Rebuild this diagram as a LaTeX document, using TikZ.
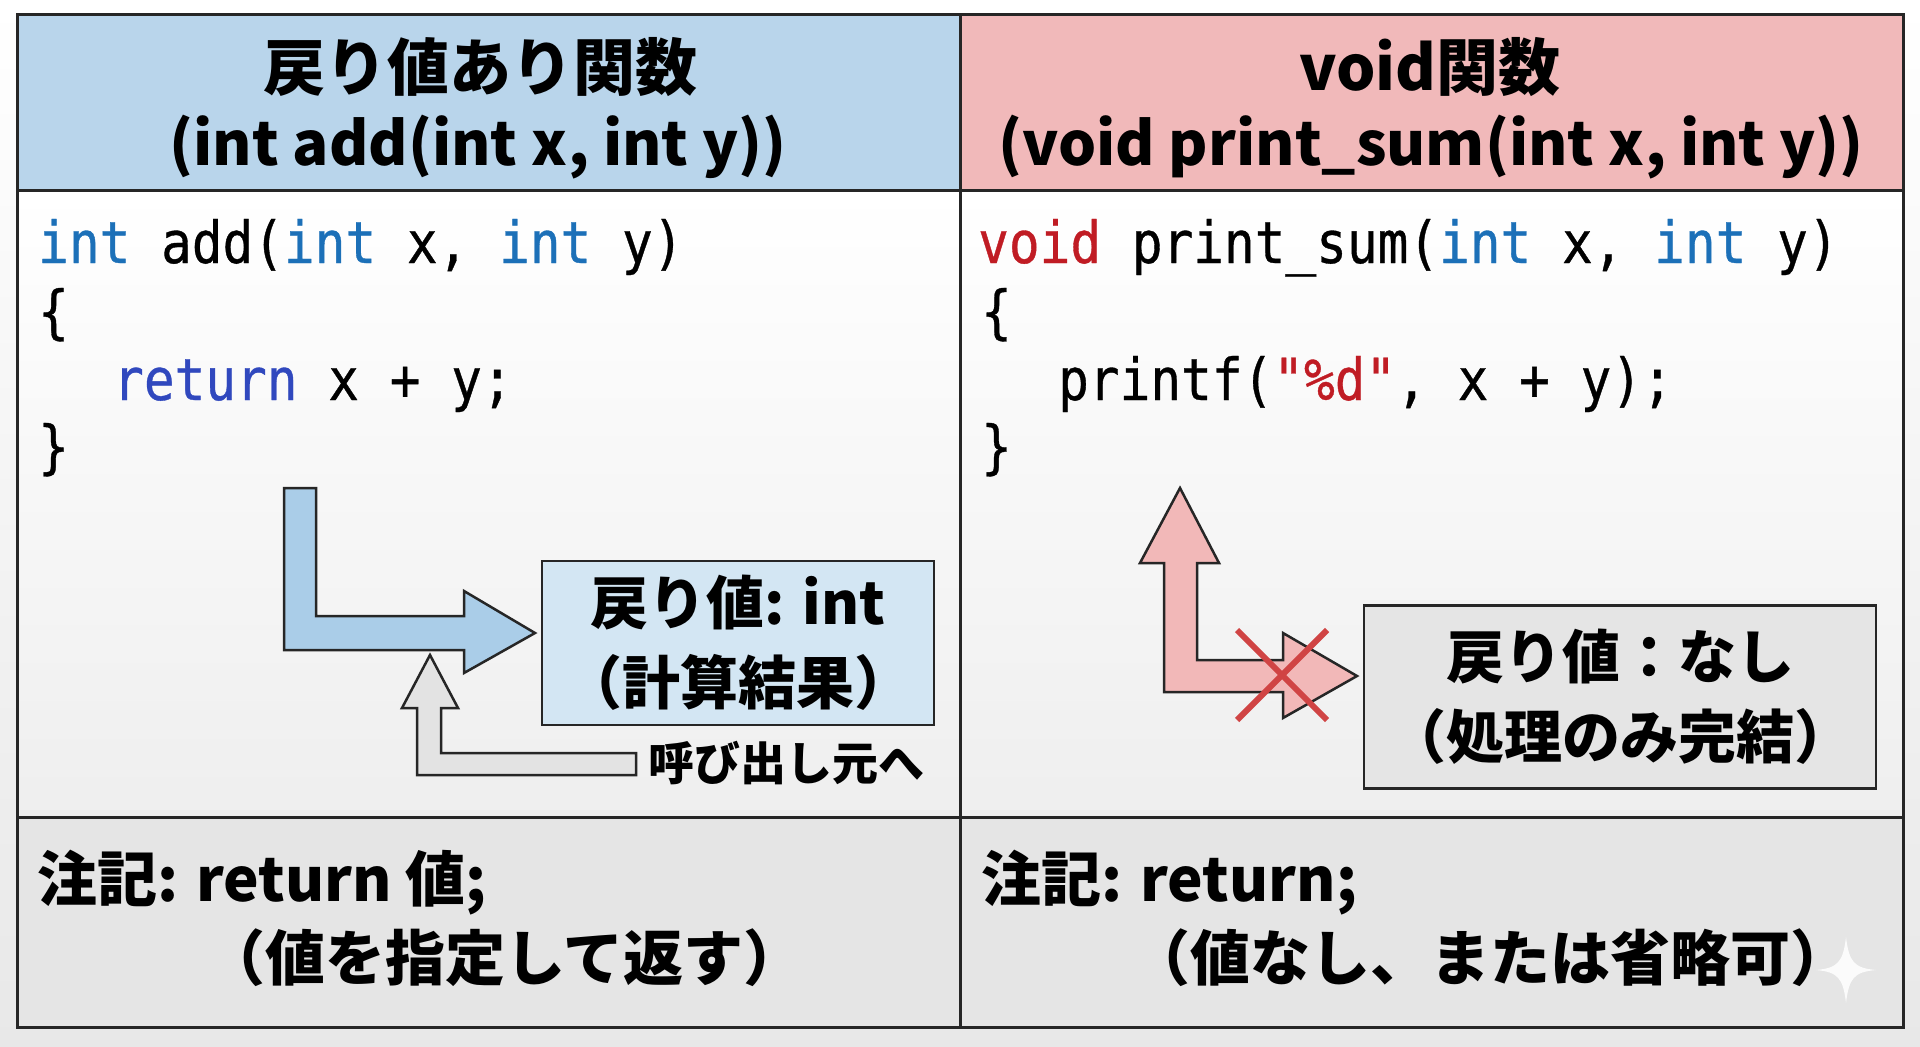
\documentclass[tikz,border=0pt]{standalone}
\usepackage{fontspec}
\setmainfont{Noto Sans CJK JP}
\newfontfamily\codefont{DejaVu Sans Mono}[FakeStretch=0.88, FakeBold=0.6, Ligatures=TeXOff]

\definecolor{hdblue}{RGB}{185,213,235}
\definecolor{hdpink}{RGB}{241,185,186}
\definecolor{kwint}{RGB}{28,112,184}
\definecolor{kwret}{RGB}{48,72,190}
\definecolor{kwvoid}{RGB}{192,28,36}
\definecolor{boxblue}{RGB}{211,230,243}
\definecolor{arrblue}{RGB}{170,205,232}
\definecolor{arrpink}{RGB}{242,184,184}
\definecolor{crossred}{RGB}{208,68,68}
\definecolor{boxgray}{RGB}{229,229,229}

\newcommand{\tint}{\textcolor{kwint}{int}}

\tikzset{
  frameline/.style={line width=3pt, draw=black!85},
  hdtext/.style={font=\bfseries\fontsize{62}{66}\selectfont, inner sep=0pt},
  hdsig/.style={font=\bfseries\fontsize{60}{66}\selectfont, inner sep=0pt},
  codeline/.style={font=\codefont\fontsize{58}{64}\selectfont, anchor=base west, inner sep=0pt},
  resbox/.style={draw=black!85, line width=2.5pt, align=center, inner sep=0pt,
    font=\bfseries\fontsize{58}{80}\selectfont},
  notetext/.style={font=\bfseries\fontsize{60}{64}\selectfont, anchor=west, inner sep=0pt},
  bigarrow/.style={draw=black!85, line width=2.5pt, line join=miter},
}

\begin{document}
\begin{tikzpicture}[x=1pt, y=-1pt]
  \useasboundingbox (0,0) rectangle (1920,1047);
  \shade[top color=white, bottom color=gray!18] (0,0) rectangle (1920,1047);

  \fill[hdblue] (17,14) rectangle (960,190);
  \fill[hdpink] (960,14) rectangle (1903,190);
  \shade[top color=white, bottom color=gray!13] (17,190) rectangle (1903,817);
  \fill[boxgray] (17,817) rectangle (1903,1027);
  \draw[frameline] (17,14) rectangle (1903,1027);
  \draw[frameline] (17,190) -- (1903,190);
  \draw[frameline] (17,817) -- (1903,817);
  \draw[frameline] (960,14) -- (960,1027);

  % headers
  \node[hdtext] (hdL1) at (480,67) {戻り値あり関数};
  \node[hdsig] (hdL2) at (478,147) {(int add(int x, int y))};
  \node[hdtext] (hdR1) at (1430,67) {void関数};
  \node[hdsig] (hdR2) at (1431,147) {(void print\_sum(int x, int y))};

  % code
  \node[codeline] (cdL1) at (38,263) {\tint{} add(\tint{} x, \tint{} y)};
  \node[codeline] (cdL2) at (38,332) {\{};
  \node[codeline] (cdL3) at (113,400) {\textcolor{kwret}{return} x + y;};
  \node[codeline] (cdL4) at (38,467) {\}};

  \node[codeline] (cdR1) at (978,263) {\textcolor{kwvoid}{void} print\_sum(\tint{} x, \tint{} y)};
  \node[codeline] (cdR2) at (981,332) {\{};
  \node[codeline] (cdR3) at (1058,400) {printf(\textcolor{kwvoid}{"\%d"}, x + y);};
  \node[codeline] (cdR4) at (981,467) {\}};

  % result boxes
  \node[resbox, fill=boxblue, minimum width=392pt, minimum height=164pt] (retL) at (738,643)
    {戻り値: int\\（計算結果）};
  \node[resbox, fill=boxgray, minimum width=512pt, minimum height=183pt] (retR) at (1620,697)
    {戻り値：なし\\（処理のみ完結）};

  \draw[bigarrow, fill=arrblue] (284,488) -- (316,488) -- (316,616) -- (464,616) -- (464,591)
    -- (535,633) -- (464,673) -- (464,650) -- (284,650) -- cycle;
  \draw[bigarrow, fill=gray!22] (636,753) -- (441,753) -- (441,708) -- (458,708) -- (430,655)
    -- (402,708) -- (417,708) -- (417,775) -- (636,775) -- cycle;
  \node[font=\bfseries\fontsize{46}{50}\selectfont, anchor=west, inner sep=0pt] (caller) at (648,763) {呼び出し元へ};

  \draw[bigarrow, fill=arrpink] (1164,692) -- (1164,563) -- (1140,563) -- (1180,488) -- (1219,563)
    -- (1197,563) -- (1197,660) -- (1283,660) -- (1283,633) -- (1357,676) -- (1283,718)
    -- (1283,692) -- cycle;
  \draw[crossred, line width=6pt] (1237,630) -- (1327,720) (1237,720) -- (1327,630);

  % notes
  \node[notetext] (ntL1) at (37,883) {注記: return 値;};
  \node[notetext] (ntL2) at (205,958) {（値を指定して返す）};
  \node[notetext] (ntR1) at (981,883) {注記: return;};
  \node[notetext] (ntR2) at (1130,958) {（値なし、または省略可）};

  \fill[white, opacity=0.85] (1846,937) .. controls (1849,962) and (1854,968) .. (1876,970)
    .. controls (1854,972) and (1849,978) .. (1846,1003)
    .. controls (1843,978) and (1838,972) .. (1816,970)
    .. controls (1838,968) and (1843,962) .. cycle;
\end{tikzpicture}
\end{document}
